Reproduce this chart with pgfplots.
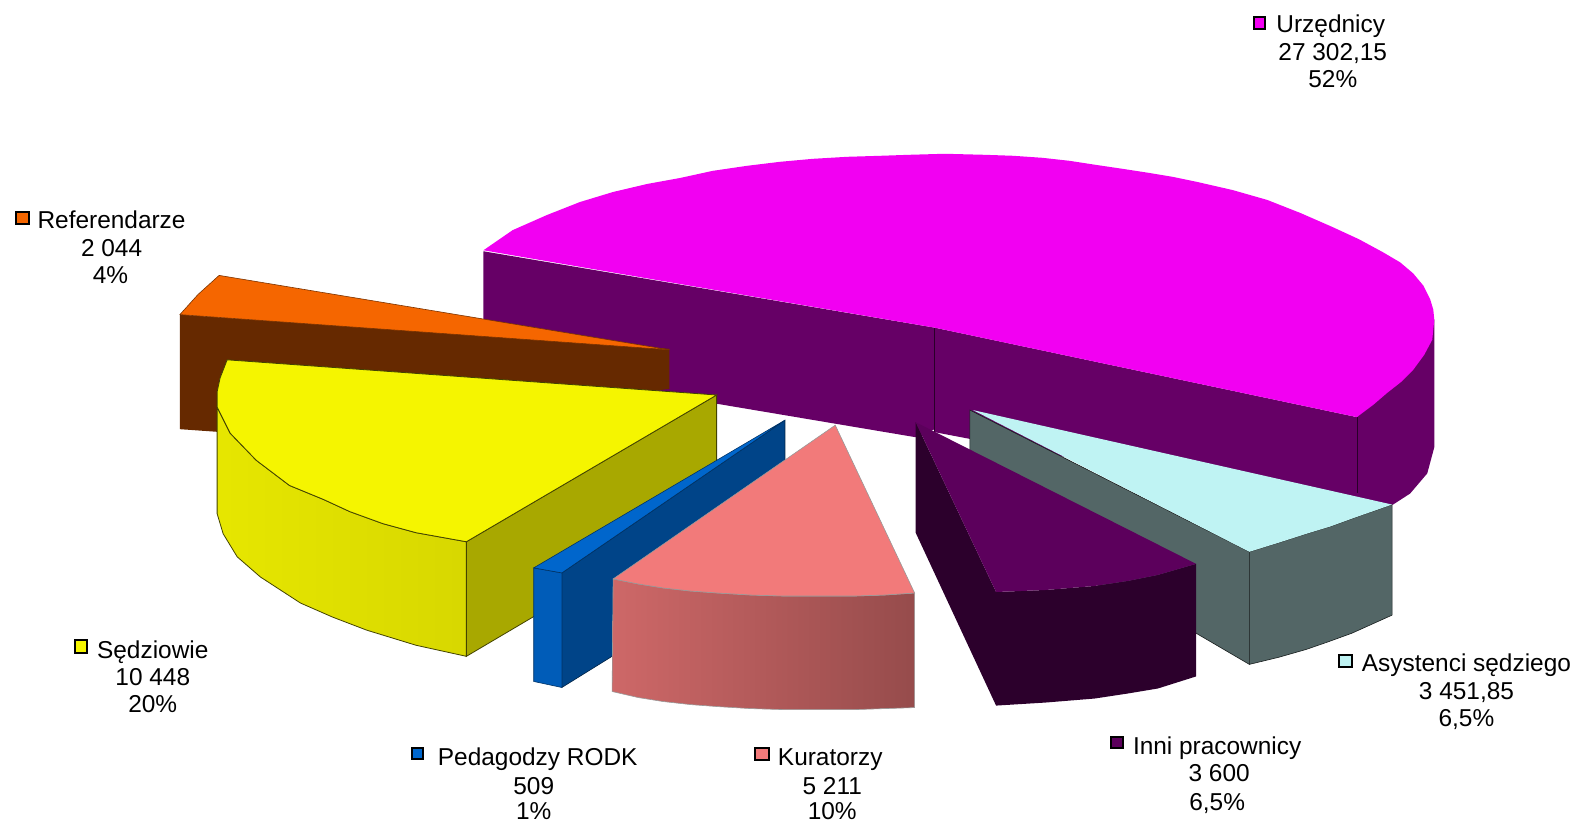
\documentclass[border=0pt]{standalone}
\usepackage{pgfplots}
\pgfplotsset{compat=1.18}
\usepackage{fontspec}
\setmainfont{Liberation Sans}
\definecolor{mag}{HTML}{F200F2}
\definecolor{magw}{HTML}{660066}
\definecolor{org}{HTML}{F56600}
\definecolor{brn}{HTML}{662900}
\definecolor{yel}{HTML}{F5F500}
\definecolor{yels}{HTML}{A8A800}
\definecolor{blu}{HTML}{0066CC}
\definecolor{blus}{HTML}{004488}
\definecolor{sal}{HTML}{F27A7A}
\definecolor{cya}{HTML}{BFF3F3}
\definecolor{gry}{HTML}{536666}
\definecolor{pur}{HTML}{5C005C}
\definecolor{pud}{HTML}{2C002C}
\newcommand{\lab}[3]{\node[anchor=base,inner sep=0pt,font=\fontsize{12.15}{13.75}\selectfont] at (axis cs:#1,#2) {#3};}
\begin{document}
\begin{tikzpicture}
\useasboundingbox (0,0) rectangle (784pt,409pt);
\begin{axis}[at={(0,0)},anchor=south west,scale only axis,width=784pt,height=409pt,xmin=0,xmax=1568,ymin=0,ymax=818,y dir=reverse,hide axis,clip=false]
% Urzednicy
\addplot[fill=magw,draw=none] coordinates {(481,250)(930,326)(930,427)(911,435)(715,402)(481,360)} --cycle;
\addplot[fill=magw,draw=none] coordinates {(930,326)(1350,415)(1427,318)(1427,445)(1420,471)(1403,491)(1386,502)(1350,510)(930,430)} --cycle;
\addplot[draw=black!60!magw,line width=0.4pt] coordinates {(930,326)(930,430)};
\addplot[draw=black!60!magw,line width=0.4pt] coordinates {(1350,415)(1350,490)};
\addplot[fill=mag,draw=none] coordinates {(481,249)(510,229)(544,214)(577,201)(610,191)(644,183)(677,177)(709,170)(743,165)(776,161)(809,158)(843,156)(876,155)(905,154)(940,153)(979,154)(1008,155)(1037,157)(1064,160)(1090,164)(1117,168)(1143,172)(1167,176)(1191,181)(1226,189)(1261,199)(1294,212)(1326,226)(1352,238)(1376,251)(1393,261)(1406,272)(1416,284)(1423,298)(1426,308)(1427,318)(1425,338)(1417,353)(1406,368)(1394,380)(1380,391)(1366,403)(1350,415)(930,326)} --cycle;
% Referendarze
\addplot[fill=brn,draw=none] coordinates {(179,313)(666,347)(666,387)(250,432)(179,427)} --cycle;
\addplot[fill=org,draw=black!50!org,line width=0.3pt] coordinates {(218,274)(666,348)(179,313)(197,293)} --cycle;
% Sedziowie
\addplot[fill=yels,draw=black!60!yels,line width=0.4pt] coordinates {(464,539)(713,393)(713,506)(464,653)} --cycle;
\addplot[left color=yel!94!black,middle color=yel!93!black,right color=yel!88!black,draw=black!60!yels,line width=0.4pt] coordinates {(216,405)(229,431)(255,458)(288,483)(322,497)(348,509)(381,521)(414,530)(464,539)(464,653)(414,642)(365,627)(331,614)(299,600)(259,574)(236,554)(222,531)(216,511)} --cycle;
\addplot[fill=yel,draw=black!60!yels,line width=0.4pt] coordinates {(226,358)(713,393)(464,539)(414,530)(381,521)(348,509)(322,497)(288,483)(255,458)(229,431)(216,405)(216,390)(219,376)} --cycle;
% Pedagodzy
\addplot[fill=blus,draw=black!50!blus,line width=0.3pt] coordinates {(559,570)(781,418)(781,470)(609,653)(559,684)} --cycle;
\addplot[fill=blu!90!black,draw=black!50!blu,line width=0.3pt] coordinates {(531,565)(559,570)(559,684)(531,678)} --cycle;
\addplot[fill=blu,draw=black!50!blu,line width=0.3pt] coordinates {(531,565)(781,418)(559,570)} --cycle;
% Kuratorzy
\addplot[left color=sal!85!black,right color=sal!62!black,draw=black!40,line width=0.3pt] coordinates {(610,576)(635,581)(660,585)(687,588)(714,590)(747,592)(780,593)(815,593)(850,593)(880,592)(910,590)(910,704)(880,705)(850,706)(815,706)(780,706)(747,705)(714,703)(687,701)(660,698)(635,694)(609,688)} --cycle;
\addplot[fill=sal,draw=black!40,line width=0.3pt] coordinates {(831,423)(910,590)(880,592)(850,593)(815,593)(780,593)(747,592)(714,590)(687,588)(660,585)(635,581)(610,576)} --cycle;
% Asystenci
\addplot[fill=gry,draw=black!70!gry,line width=0.3pt] coordinates {(965,408)(1243,549)(1243,661)(1190,630)(965,520)} --cycle;
\addplot[fill=gry,draw=black!70!gry,line width=0.3pt] coordinates {(1243,549)(1272,540)(1300,531)(1323,524)(1345,516)(1385,502)(1385,612)(1345,630)(1323,638)(1300,646)(1272,654)(1243,661)} --cycle;
\addplot[fill=cya,draw=none] coordinates {(968,408)(1385,502)(1345,516)(1323,524)(1300,531)(1272,540)(1243,549)} --cycle;
% Inni
\addplot[fill=pud,draw=none] coordinates {(911,420)(991,589)(991,702)(911,530)} --cycle;
\addplot[fill=pud,draw=none] coordinates {(991,589)(1040,587)(1089,583)(1122,578)(1152,572)(1190,561)(1190,673)(1152,685)(1122,690)(1089,695)(1040,699)(991,702)} --cycle;
\addplot[fill=pur,draw=none] coordinates {(911,420)(1190,561)(1152,572)(1122,578)(1089,583)(1040,587)(991,589)} --cycle;
% legend keys
\addplot[fill=mag,draw=black,line width=1pt] coordinates {(1248,17)(1259,17)(1259,29)(1248,29)} --cycle;
\addplot[fill=org,draw=black,line width=1pt] coordinates {(16,211)(29,211)(29,223)(16,223)} --cycle;
\addplot[fill=yel,draw=black,line width=1pt] coordinates {(75,637)(87,637)(87,650)(75,650)} --cycle;
\addplot[fill=blu,draw=black,line width=1pt] coordinates {(410,744)(421,744)(421,755)(410,755)} --cycle;
\addplot[fill=sal,draw=black,line width=1pt] coordinates {(751,744)(765,744)(765,756)(751,756)} --cycle;
\addplot[fill=pur,draw=black,line width=1pt] coordinates {(1105,733)(1117,733)(1117,744)(1105,744)} --cycle;
\addplot[fill=cya,draw=black,line width=1pt] coordinates {(1332,652)(1345,652)(1345,664)(1332,664)} --cycle;
% labels
\lab{1324}{32}{Urzędnicy}\lab{1326}{60}{27 302,15}\lab{1326}{87}{52\%}
\lab{111}{227}{Referendarze}\lab{111}{255}{2 044}\lab{110}{282}{4\%}
\lab{152}{655}{Sędziowie}\lab{152}{682}{10 448}\lab{152}{709}{20\%}
\lab{535}{762}{Pedagodzy RODK}\lab{531}{790}{509}\lab{531}{815}{1\%}
\lab{826}{762}{Kuratorzy}\lab{828}{790}{5 211}\lab{828}{815}{10\%}
\lab{1211}{751}{Inni pracownicy}\lab{1213}{778}{3 600}\lab{1211}{806}{6,5\%}
\lab{1459}{668}{Asystenci sędziego}\lab{1459}{696}{3 451,85}\lab{1459}{723}{6,5\%}
\end{axis}
\end{tikzpicture}
\end{document}
